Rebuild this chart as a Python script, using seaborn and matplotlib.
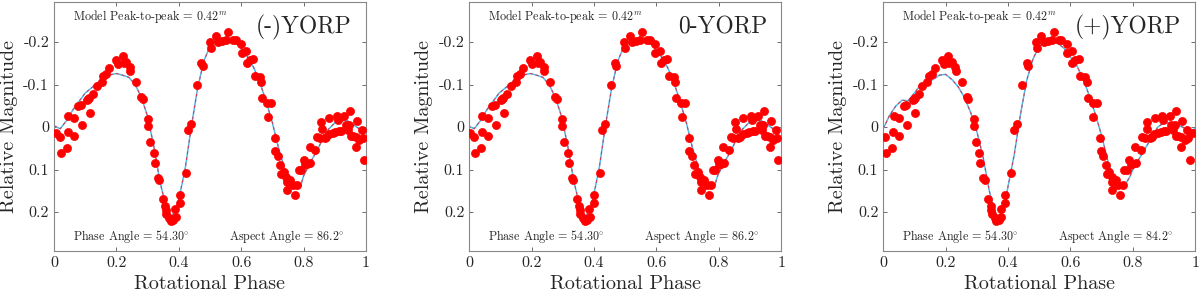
import numpy as np
import matplotlib
matplotlib.use("Agg")
import matplotlib.pyplot as plt
import seaborn as sns
import pandas as pd

# Observed points (read from the (-)YORP panel)
obs_phase = [0.006, 0.019, 0.021, 0.041, 0.044, 0.046, 0.064, 0.064, 0.078, 0.086,
             0.089, 0.107, 0.110, 0.113, 0.115, 0.126, 0.137, 0.153, 0.158, 0.168,
             0.177, 0.200, 0.206, 0.220, 0.224, 0.232, 0.243, 0.245, 0.264, 0.280,
             0.284, 0.302, 0.302, 0.309, 0.320, 0.323, 0.332, 0.337, 0.348, 0.356,
             0.358, 0.360, 0.369, 0.374, 0.382, 0.390, 0.389, 0.403, 0.403, 0.422,
             0.431, 0.440, 0.458, 0.472, 0.476, 0.501, 0.504, 0.518, 0.526, 0.539,
             0.558, 0.552, 0.574, 0.582, 0.600, 0.601, 0.616, 0.618, 0.627, 0.638,
             0.643, 0.659, 0.664, 0.667, 0.683, 0.686, 0.696, 0.707, 0.709, 0.718,
             0.725, 0.728, 0.736, 0.744, 0.746, 0.746, 0.757, 0.766, 0.771, 0.779,
             0.784, 0.792, 0.800, 0.806, 0.811, 0.819, 0.822, 0.838, 0.842, 0.851,
             0.856, 0.859, 0.867, 0.872, 0.881, 0.883, 0.893, 0.902, 0.906, 0.909,
             0.913, 0.920, 0.931, 0.936, 0.941, 0.947, 0.950, 0.952, 0.957, 0.968,
             0.968, 0.970, 0.979, 0.987, 0.989, 0.995]
obs_mag = [0.013, 0.024, 0.060, 0.049, 0.012, -0.027, -0.022, 0.020, -0.049, -0.051,
           -0.006, -0.064, -0.067, -0.069, -0.033, -0.078, -0.097, -0.107, -0.121, -0.124,
           -0.139, -0.158, -0.149, -0.166, -0.150, -0.153, -0.141, -0.132, -0.106, -0.071,
           -0.066, -0.020, -0.002, 0.035, 0.061, 0.085, 0.121, 0.125, 0.169, 0.186,
           0.196, 0.205, 0.215, 0.221, 0.218, 0.211, 0.192, 0.159, 0.178, 0.108,
           0.006, -0.008, -0.098, -0.150, -0.143, -0.200, -0.186, -0.215, -0.200, -0.202,
           -0.223, -0.205, -0.205, -0.204, -0.196, -0.175, -0.178, -0.150, -0.157, -0.159,
           -0.121, -0.117, -0.105, -0.069, -0.056, -0.024, -0.056, 0.025, 0.056, 0.067,
           0.090, 0.110, 0.106, 0.117, 0.129, 0.149, 0.125, 0.137, 0.161, 0.137,
           0.100, 0.102, 0.077, 0.088, 0.086, 0.047, 0.084, 0.055, 0.024, 0.025,
           -0.012, 0.004, 0.025, 0.024, 0.016, -0.022, 0.014, 0.012, -0.027, -0.016,
           0.010, 0.010, -0.027, -0.004, 0.006, -0.004, -0.037, 0.020, 0.022, 0.024,
           0.047, -0.014, 0.030, 0.008, 0.025, 0.078]

# per-panel phase shift of the observations
phase_offset = [0.0, -0.004, -0.012]

# model lightcurves
model_phase = [0.00, 0.02, 0.04, 0.06, 0.08, 0.10, 0.12, 0.14, 0.16, 0.18,
               0.20, 0.22, 0.24, 0.26, 0.28, 0.30, 0.32, 0.34, 0.36, 0.375,
               0.39, 0.40, 0.42, 0.44, 0.46, 0.48, 0.50, 0.52, 0.54, 0.56,
               0.58, 0.60, 0.62, 0.64, 0.66, 0.68, 0.70, 0.72, 0.74, 0.76,
               0.78, 0.79, 0.80, 0.82, 0.84, 0.86, 0.88, 0.90, 0.92, 0.94,
               0.96, 0.98, 1.00]
model_a = [-0.003, 0.004, -0.015, -0.040, -0.060, -0.080, -0.092, -0.105, -0.115, -0.123,
           -0.126, -0.122, -0.117, -0.100, -0.070, -0.025, 0.045, 0.130, 0.190, 0.213,
           0.195, 0.170, 0.100, 0.000, -0.090, -0.155, -0.190, -0.205, -0.207, -0.206,
           -0.200, -0.185, -0.165, -0.140, -0.105, -0.060, -0.010, 0.050, 0.100, 0.135,
           0.145, 0.140, 0.115, 0.085, 0.060, 0.030, 0.005, -0.010, -0.015, -0.015,
           -0.005, 0.005, 0.003]
model_b = [0.004, -0.027, -0.049, -0.063, -0.062, -0.080, -0.100, -0.105, -0.112, -0.122,
           -0.124, -0.112, -0.095, -0.070, -0.035, 0.010, 0.070, 0.150, 0.205, 0.210,
           0.180, 0.140, 0.065, -0.030, -0.110, -0.160, -0.190, -0.200, -0.200, -0.197,
           -0.185, -0.165, -0.145, -0.115, -0.075, -0.030, 0.020, 0.080, 0.120, 0.138,
           0.130, 0.118, 0.100, 0.075, 0.050, 0.025, 0.000, -0.010, -0.010, -0.005,
           0.000, 0.010, 0.004]

titles = ["(-)YORP", "0-YORP", "(+)YORP"]
aspect = ["86.2", "86.2", "84.2"]
models = [model_a, model_a, model_b]
model_shift = [0.0, -0.004, 0.0]

sns.set_style("ticks")
plt.rcParams["font.family"] = ["cmr10", "DejaVu Serif"]
plt.rcParams["mathtext.fontset"] = "cm"
plt.rcParams["axes.unicode_minus"] = False

fig = plt.figure(figsize=(12, 2.99), dpi=100)
lefts = [0.045, 0.391, 0.736]

for i in range(3):
    ax = fig.add_axes([lefts[i], 0.16, 0.260, 0.833])
    df = pd.DataFrame({"phase": (np.array(obs_phase) + phase_offset[i]) % 1.0,
                       "mag": obs_mag})
    mdf = pd.DataFrame({"phase": np.array(model_phase) + model_shift[i],
                        "mag": models[i]})
    sns.lineplot(data=mdf, x="phase", y="mag", ax=ax, color="#4DBEEE", lw=1.1,
                 sort=False)
    sns.lineplot(data=mdf, x="phase", y="mag", ax=ax, color="#E0304A", lw=0.7,
                 sort=False, linestyle=(0, (3, 3)))
    sns.scatterplot(data=df, x="phase", y="mag", ax=ax, color="red", s=34,
                    edgecolor="red", linewidth=0.5, zorder=3)
    ax.set_xlim(0, 1)
    ax.set_ylim(0.292, -0.294)
    ax.set_xticks([0, 0.2, 0.4, 0.6, 0.8, 1])
    ax.set_xticklabels(["0", "0.2", "0.4", "0.6", "0.8", "1"])
    ax.set_yticks([-0.2, -0.1, 0, 0.1, 0.2])
    ax.set_yticklabels(["-0.2", "-0.1", "0", "0.1", "0.2"])
    ax.tick_params(direction="in", top=True, right=True, labelsize=11.5,
                   color="#555555", length=3, width=0.6)
    for s in ax.spines.values():
        s.set_visible(True)
        s.set_color("#888888")
        s.set_linewidth(0.8)
    ax.set_xlabel("Rotational Phase", fontsize=14.5)
    ax.set_ylabel("Relative Magnitude", fontsize=14.5)
    ax.text(0.06, 0.944, r"Model Peak-to-peak = 0.42$^m$", transform=ax.transAxes,
            fontsize=8.7, va="center")
    ax.text(0.955, 0.9, titles[i], transform=ax.transAxes, fontsize=17, ha="right",
            va="center")
    ax.text(0.06, 0.06, r"Phase Angle = 54.30$^{\circ}$", transform=ax.transAxes,
            fontsize=8.7, va="center")
    ax.text(0.56, 0.06, r"Aspect Angle = " + aspect[i] + r"$^{\circ}$",
            transform=ax.transAxes, fontsize=8.7, va="center")

fig.savefig("out.png", dpi=100)
